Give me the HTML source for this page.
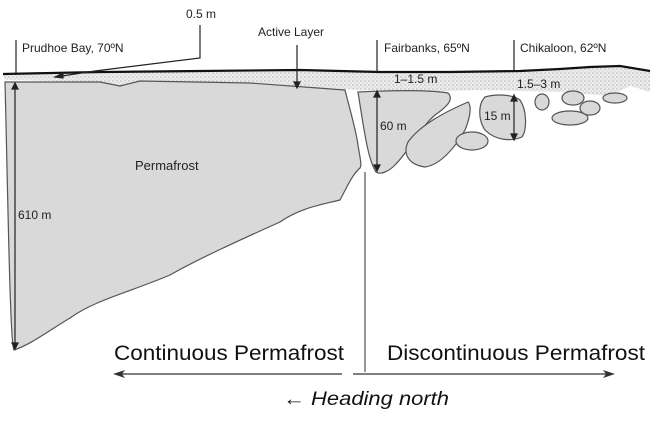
<!DOCTYPE html>
<html><head><style>
html,body{margin:0;padding:0;background:#fff;}
svg{display:block;}
</style></head><body>
<svg width="660" height="428" viewBox="0 0 660 428" xmlns="http://www.w3.org/2000/svg">
<defs>
<pattern id="dots" width="4" height="4" patternUnits="userSpaceOnUse">
<rect width="4" height="4" fill="#ececec"/>
<circle cx="1" cy="1" r="0.6" fill="#9a9a9a"/>
<circle cx="3" cy="3" r="0.5" fill="#b0b0b0"/>
</pattern>
</defs>
<path d="M3,74 L100,72 L200,71 L300,70 L380,72 L450,72 L520,71 L560,69 L590,67 L620,66 L650,71 L650,92 L630,86 L610,96 L560,92 L480,90 L420,92 L360,90 L330,88 L250,83 L140,81 L120,86 L100,82 L5,80 Z" fill="url(#dots)"/>
<path d="M3,74 L100,72 L200,71 L300,70 L380,72 L450,72 L520,71 L560,69 L590,67 L620,66 L650,71" fill="none" stroke="#111" stroke-width="2.2"/>
<path d="M5,82 L100,82 L120,86 L140,81 L250,83 L345,90 C350,110 356,130 358,145 C360,158 362,165 360,168 C352,175 348,185 340,200 C320,205 300,208 280,222 C240,240 200,258 170,275 C130,292 95,300 70,318 C50,330 30,345 14,350 C10,345 8,200 5,82 Z" fill="#d9d9d9" stroke="#555" stroke-width="1.2"/>
<path d="M358,92 C400,90 430,90 448,93 C455,100 445,108 435,115 C420,128 410,150 395,165 C388,172 380,175 376,172 C368,160 364,130 358,92 Z" fill="#d9d9d9" stroke="#555" stroke-width="1.2"/>
<path d="M468,102 C445,112 420,125 408,142 C402,155 410,165 425,167 C440,165 455,148 465,130 C470,118 472,106 468,102 Z" fill="#d9d9d9" stroke="#555" stroke-width="1.2"/>
<path d="M485,97 C495,94 512,94 520,100 C527,110 527,130 522,137 C510,142 495,140 485,130 C478,120 478,104 485,97 Z" fill="#d9d9d9" stroke="#555" stroke-width="1.2"/>
<ellipse cx="472" cy="141" rx="16" ry="9" fill="#d9d9d9" stroke="#555" stroke-width="1.2"/>
<ellipse cx="542" cy="102" rx="7" ry="8" fill="#d9d9d9" stroke="#555" stroke-width="1.2"/>
<ellipse cx="570" cy="118" rx="18" ry="7" fill="#d9d9d9" stroke="#555" stroke-width="1.2"/>
<ellipse cx="573" cy="98" rx="11" ry="7" fill="#d9d9d9" stroke="#555" stroke-width="1.2"/>
<ellipse cx="590" cy="108" rx="10" ry="7" fill="#d9d9d9" stroke="#555" stroke-width="1.2"/>
<ellipse cx="615" cy="98" rx="12" ry="5" fill="#d9d9d9" stroke="#555" stroke-width="1.2"/>
<g font-family="Liberation Sans, sans-serif" font-size="12" fill="#222">
<text x="22" y="52">Prudhoe Bay, 70ºN</text>
<text x="186" y="18">0.5 m</text>
<text x="258" y="36">Active Layer</text>
<text x="384" y="52">Fairbanks, 65ºN</text>
<text x="520" y="52">Chikaloon, 62ºN</text>
<text x="394" y="83">1–1.5 m</text>
<text x="517" y="88">1.5–3 m</text>
<text x="135" y="170" font-size="13">Permafrost</text>
<text x="18" y="219">610 m</text>
<text x="380" y="130">60 m</text>
<text x="484" y="120">15 m</text>
</g>
<g stroke="#222" stroke-width="1.2" fill="#222">
<line x1="16" y1="40" x2="16" y2="73"/>
<line x1="377" y1="40" x2="377" y2="72"/>
<line x1="514" y1="40" x2="514" y2="71"/>
<polyline points="200,25 200,58 95,71 55,77" fill="none"/>
<path d="M55,77 l8,-4 l0,5 z"/>
<line x1="297" y1="45" x2="297" y2="86"/>
<path d="M297,88 l-3,-6 l6,0 z"/>
<line x1="15" y1="87" x2="15" y2="345"/>
<path d="M15,83 l-3,6 l6,0 z"/><path d="M15,349 l-3,-6 l6,0 z"/>
<line x1="377" y1="95" x2="377" y2="167"/>
<path d="M377,91 l-3,6 l6,0 z"/><path d="M377,171 l-3,-6 l6,0 z"/>
<line x1="514" y1="98" x2="514" y2="137"/>
<path d="M514,95 l-3,6 l6,0 z"/><path d="M514,140 l-3,-6 l6,0 z"/>
</g>
<line x1="365" y1="172" x2="365" y2="372" stroke="#777" stroke-width="1.5"/>
<line x1="118" y1="374" x2="342" y2="374" stroke="#333" stroke-width="1.3"/>
<path d="M113,374 l12,-4 l-3,4 l3,4 z" fill="#333"/>
<line x1="353" y1="374" x2="610" y2="374" stroke="#333" stroke-width="1.3"/>
<path d="M615,374 l-12,-4 l3,4 l-3,4 z" fill="#333"/>
<g font-family="Liberation Sans, sans-serif" fill="#111">
<text x="114" y="360" font-size="21" textLength="230" lengthAdjust="spacingAndGlyphs">Continuous Permafrost</text>
<text x="387" y="360" font-size="21" textLength="258" lengthAdjust="spacingAndGlyphs">Discontinuous Permafrost</text>
<text x="283" y="405" font-size="19" font-style="italic" textLength="166" lengthAdjust="spacingAndGlyphs">← Heading north</text>
</g>
</svg>
</body></html>
